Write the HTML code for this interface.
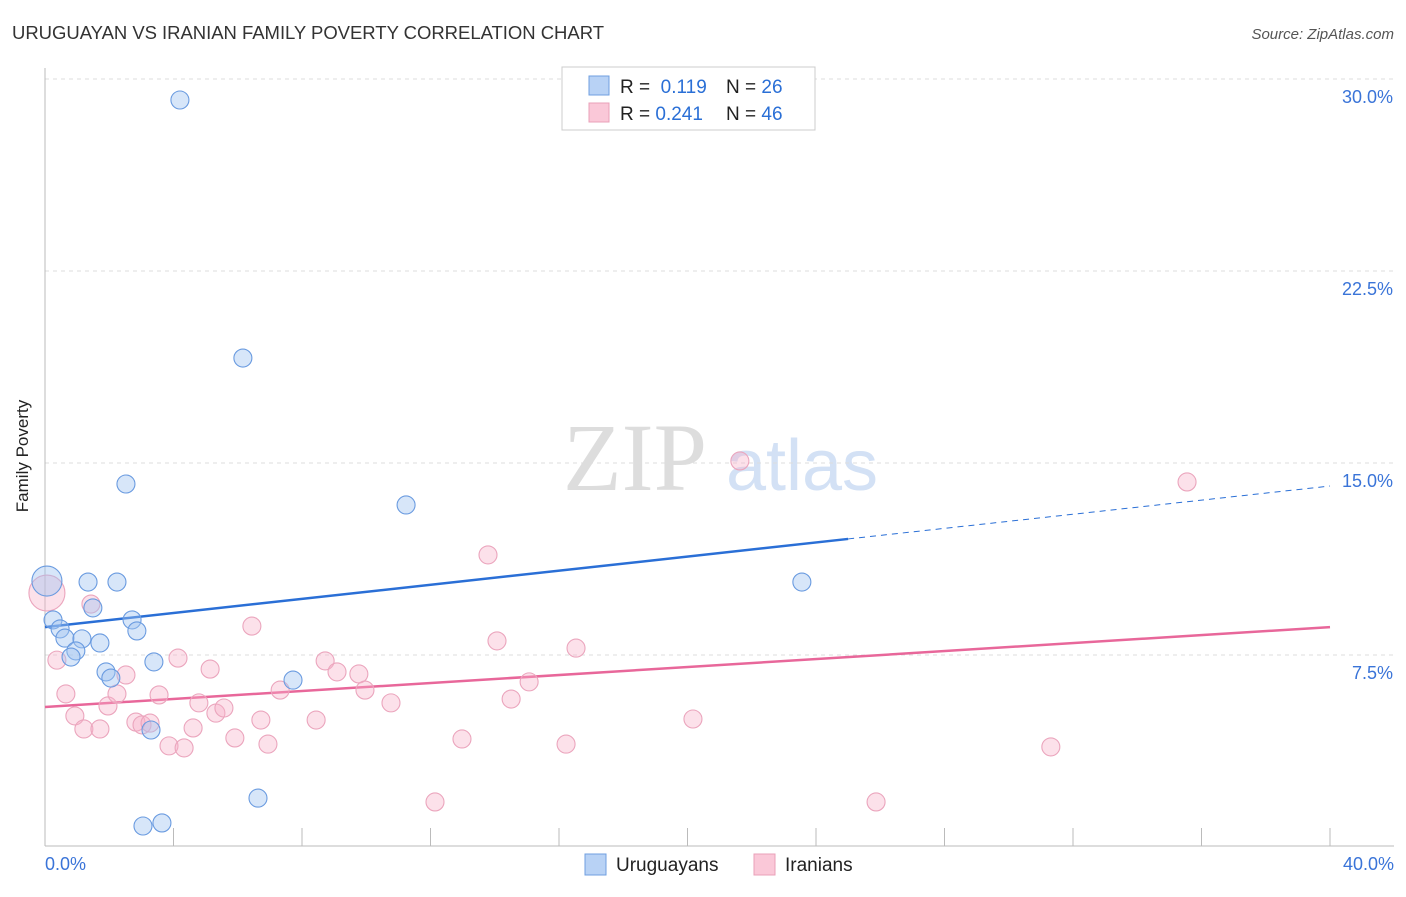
<!DOCTYPE html>
<html><head><meta charset="utf-8"><style>
body{margin:0;background:#fff;font-family:"Liberation Sans",sans-serif;}
</style></head><body>
<svg width="1406" height="892" xmlns="http://www.w3.org/2000/svg">
<text x="12" y="39" font-size="18.5" fill="#333" textLength="592">URUGUAYAN VS IRANIAN FAMILY POVERTY CORRELATION CHART</text>
<text x="1394" y="39" font-size="15" fill="#555" font-style="italic" text-anchor="end">Source: ZipAtlas.com</text>
<text x="28" y="456" font-size="17" fill="#222" text-anchor="middle" transform="rotate(-90 28 456)">Family Poverty</text>
<g>
<text x="635" y="490" font-size="96" fill="#ddd" font-family="Liberation Serif,serif" text-anchor="middle">ZIP</text>
<text x="802" y="490" font-size="72" fill="#d3e1f5" text-anchor="middle">atlas</text>
</g>
<g id="grid"></g><g id="axes"></g><g id="lines"></g><g id="dots"></g>
<g>
<rect x="562" y="67" width="253" height="63" fill="#fff" stroke="#ccc"/>
<rect x="589" y="76" width="20" height="19" fill="#b8d2f5" stroke="#6f9fe0"/>
<rect x="589" y="103" width="20" height="19" fill="#fac8d8" stroke="#eaa0b8"/>
<text x="620" y="93" font-size="19" fill="#222">R = <tspan fill="#2a6fd6">&#160;0.119</tspan></text>
<text x="726" y="93" font-size="19" fill="#222">N = <tspan fill="#2a6fd6">26</tspan></text>
<text x="620" y="120" font-size="19" fill="#222">R = <tspan fill="#2a6fd6">0.241</tspan></text>
<text x="726" y="120" font-size="19" fill="#222">N = <tspan fill="#2a6fd6">46</tspan></text>
</g>
<g>
<rect x="585" y="854" width="21" height="21" fill="#b8d2f5" stroke="#6f9fe0"/>
<text x="616" y="871" font-size="19" fill="#222">Uruguayans</text>
<rect x="754" y="854" width="21" height="21" fill="#fac8d8" stroke="#eaa0b8"/>
<text x="785" y="871" font-size="19" fill="#222">Iranians</text>
</g>
</svg>
<script>
const yTicks=[7.5,15,22.5,30];
const yTickLabels=["7.5%","15.0%","22.5%","30.0%"];
const xTicks=[0,4,8,12,16,20,24,28,32,36,40];
const uruX=[0.06,1.34,2.24,4.20,6.16,2.52,11.24,23.56,1.49,0.25,2.71,2.86,0.47,0.62,1.15,1.71,0.96,0.81,1.90,2.05,3.39,7.72,3.30,6.63,3.05,3.64];
const uruY=[10.39,10.35,10.35,29.18,19.10,14.18,13.36,10.35,9.34,8.87,8.87,8.44,8.52,8.16,8.13,7.97,7.66,7.42,6.84,6.60,7.23,6.52,4.57,1.91,0.82,0.94];
const iraX=[0.06,0.37,0.65,1.43,0.93,1.21,1.71,1.96,2.24,2.52,2.83,3.02,3.27,3.55,3.86,4.14,4.33,4.61,4.79,5.14,5.32,5.57,5.91,6.44,6.72,6.94,7.32,8.44,8.72,9.09,9.77,9.96,10.77,12.14,12.98,13.79,14.07,14.51,15.07,16.22,16.53,20.17,21.63,25.87,31.31,35.55];
const iraY=[9.92,7.30,5.98,9.49,5.12,4.61,4.61,5.51,5.98,6.72,4.88,4.77,4.84,5.94,3.95,7.38,3.87,4.65,5.63,6.95,5.23,5.43,4.26,8.63,4.96,4.02,6.13,4.96,7.27,6.84,6.76,6.13,5.63,1.76,4.22,11.41,8.05,5.78,6.45,4.02,7.77,5.00,15.08,1.76,3.91,14.26];
const uruTrend=[8.59,14.10];
const iraTrend=[5.47,8.59];
const uruSolidEnd=25.0;
const NS="http://www.w3.org/2000/svg";
const X=v=>45+v/40*1285, Y=v=>847-v/7.5*192;
function mk(t,a,p){const e=document.createElementNS(NS,t);for(const k in a)e.setAttribute(k,a[k]);document.getElementById(p).appendChild(e);return e;}
yTicks.forEach((t,i)=>{
 const g=mk('line',{x1:45,x2:1394,y1:Y(t),y2:Y(t),stroke:'#ddd','stroke-dasharray':'4,4'},'grid');
 
 
 const l=mk('text',{x:1393,y:Y(t)+24,'font-size':18,fill:'#3a74d8','text-anchor':'end'},'grid');l.textContent=yTickLabels[i];
 
 
});
const ax=mk('line',{x1:45,x2:45,y1:68,y2:846,stroke:'#bbb'},'axes');


const bx=mk('line',{x1:45,x2:1394,y1:846,y2:846,stroke:'#bbb'},'axes');


xTicks.forEach(t=>{const e=mk('line',{x1:X(t),x2:X(t),y1:828,y2:846,stroke:'#bbb'},'axes');
 
 });
[[0,45,'start'],[40,1394,'end']].forEach(([v,px,a])=>{const e=mk('text',{x:px,y:870,'font-size':18,fill:'#3a74d8','text-anchor':a},'axes');e.textContent=v.toFixed(1)+'%';
 
 });
function tv(tr,x){return tr[0]+(tr[1]-tr[0])*x/40;}
let l1=mk('line',{x1:X(0),y1:Y(tv(uruTrend,0)),x2:X(uruSolidEnd),y2:Y(tv(uruTrend,uruSolidEnd)),stroke:'#2a6fd6','stroke-width':2.5},'lines');


let l2=mk('line',{x1:X(uruSolidEnd),y1:Y(tv(uruTrend,uruSolidEnd)),x2:X(40),y2:Y(tv(uruTrend,40)),stroke:'#2a6fd6','stroke-width':1,'stroke-dasharray':'6,5'},'lines');


let l3=mk('line',{x1:X(0),y1:Y(iraTrend[0]),x2:X(40),y2:Y(iraTrend[1]),stroke:'#e8679a','stroke-width':2.5},'lines');


iraX.forEach((x,i)=>{const c=mk('circle',{cx:X(x),cy:Y(iraY[i]),r:i==0?18:9,fill:'rgba(248,176,200,0.38)',stroke:'#eba5bd','stroke-width':1.1},'dots');
 
 });
uruX.forEach((x,i)=>{const c=mk('circle',{cx:X(x),cy:Y(uruY[i]),r:i==0?15:9,fill:'rgba(160,196,240,0.42)',stroke:'#6a9be0','stroke-width':1.1},'dots');
 
 });
</script>
</body></html>
